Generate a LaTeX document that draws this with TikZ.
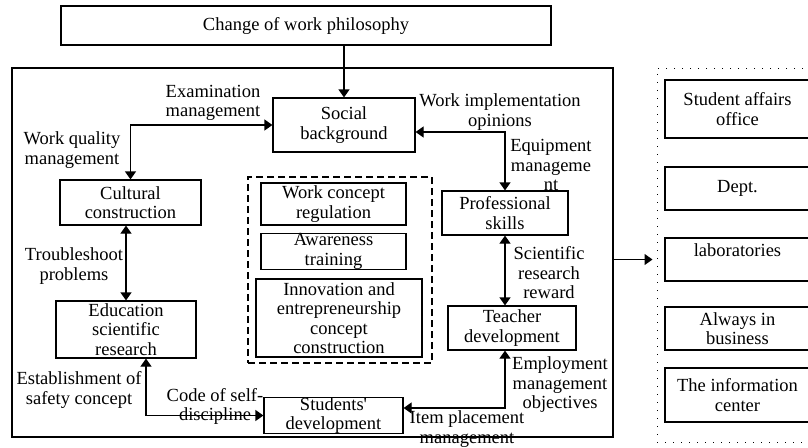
\documentclass[tikz,border=0pt]{standalone}
\usepackage{fontspec}
\setmainfont{Liberation Serif}[Ligatures=TeXOff]
\usetikzlibrary{arrows.meta,positioning}

\begin{document}
\begin{tikzpicture}[x=1pt,y=-1pt,line width=1.2pt,
  font=\fontsize{18.5}{19.5}\selectfont,
  >={Triangle[length=8pt,width=11pt]},
  box/.style={draw,align=center,inner sep=0pt},
  lbl/.style={align=center,inner sep=0pt}]
\useasboundingbox (0,0) rectangle (808,447);
\clip (0,0) rectangle (808,447);
\node [box,minimum width=490,minimum height=39] (change) at (306,25.5) {Change of work philosophy};
\node [box,minimum width=601,minimum height=369] (core) at (312.5,252.5) {};
\node [box,minimum width=142,minimum height=54] (social) at (344,125) {Social\\background};
\node [box,minimum width=141,minimum height=45] (cultural) at (130.5,202.5) {Cultural\\construction};
\node [box,dash pattern=on 7pt off 4pt,minimum width=184,minimum height=186] (concept) at (340,270) {};
\node [box,minimum width=145,minimum height=42] (regulation) at (333.5,204) {Work concept\\regulation};
\node [box,minimum width=145,minimum height=33] (awareness) at (333.5,251.5) {Awareness\\training};
\node [box,minimum width=166,minimum height=78] (innovation) at (339,318) {Innovation and\\entrepreneurship\\concept\\construction};
\node [box,minimum width=140,minimum height=57] (education) at (126,329.5) {Education\\scientific\\research};
\node [box,minimum width=139,minimum height=35] (students) at (333.5,415.5) {Students'\\development};
\node [box,minimum width=126,minimum height=44] (professional) at (505,213) {Professional\\skills};
\node [box,minimum width=128,minimum height=44] (teacher) at (512,328) {Teacher\\development};
\node [box,dash pattern=on 1.2pt off 6.8pt,line width=1pt,minimum width=170,minimum height=374] (units) at (742,255) {};
\node [box,minimum width=145,minimum height=58] (affairs) at (737.5,109) {Student affairs\\office};
\node [box,minimum width=145,minimum height=43] (dept) at (737.5,188.5) {Dept.};
\node [box,minimum width=145,minimum height=43] (labs) at (737.5,259.5) {laboratories\\\mbox{}};
\node [box,minimum width=145,minimum height=43] (business) at (737.5,328.5) {Always in\\business};
\node [box,minimum width=145,minimum height=54] (info) at (737.5,395) {The information\\center};
\node [lbl] (exam) at (213,103) {Examination\\management};
\node [lbl] (quality) at (72,150) {Work quality\\management};
\node [lbl] (opinions) at (500,112) {Work implementation\\opinions};
\node [lbl] (equipment) at (551,165) {Equipment\\manageme\\nt};
\node [lbl] (trouble) at (74,266) {Troubleshoot\\problems};
\node [lbl] (safety) at (79,390) {Establishment of\\safety concept};
\node [lbl] (code) at (215,406.5) {Code of self-\\discipline};
\node [lbl] (reward) at (549,273) {Scientific\\research\\reward};
\node [lbl] (objectives) at (560,385) {Employment\\management\\objectives};
\node [lbl] (placement) at (467,429) {Item placement\\management};
\draw [->] (social |- change.south) -- (social.north);
\draw [<->] (cultural.north) |- (social.west);
\draw [<->] (education.north |- cultural.south) -- (education.north);
\draw [<->] ([xshift=20pt]education.south) |- (students.west);
\draw [<->] ([yshift=-7pt]social.east) -| (professional.north);
\draw [<->] (professional.south) -- (professional.south |- teacher.north);
\draw [<->] (professional.south |- teacher.south) |- ([yshift=7.5pt]students.east);
\draw [->,shorten >=4pt] (core.east |- labs) -- (units.west |- labs);
\end{tikzpicture}
\end{document}
